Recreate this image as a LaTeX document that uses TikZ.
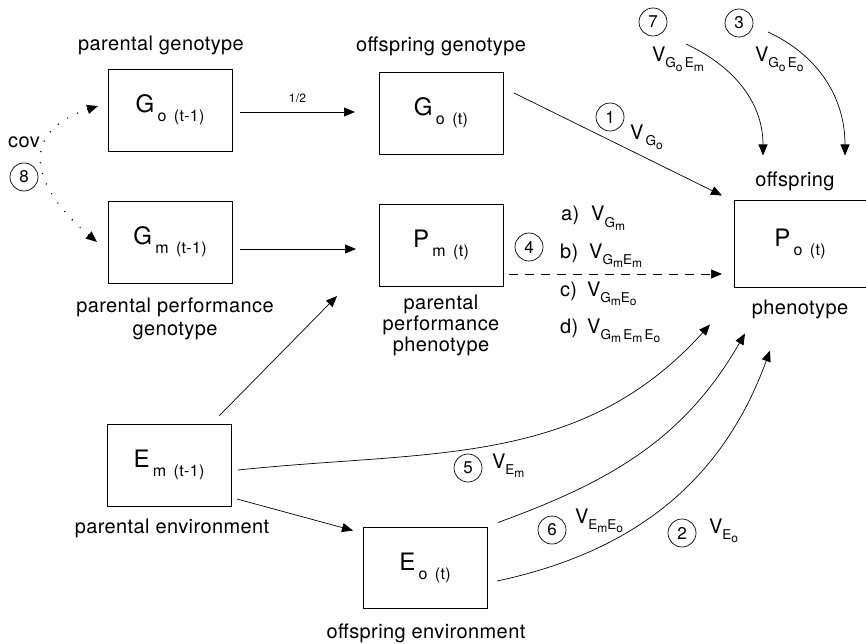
\documentclass[tikz,border=0pt]{standalone}
\usepackage{fontspec}
\setmainfont[LetterSpace=2]{TeX Gyre Heros}
\usetikzlibrary{positioning,arrows.meta}
\newcommand\boxlabel[2]{{\fontsize{24}{24}\selectfont #1}\,\raisebox{-9pt}{\fontsize{16}{16}\selectfont #2}}
\newcommand\varlabel[1]{{\fontsize{20}{20}\selectfont V}\raisebox{-6pt}{\fontsize{13.5}{13.5}\selectfont #1}}
\newcommand\lowsub[1]{\raisebox{-3.5pt}{\fontsize{12}{12}\selectfont #1}}
\tikzset{
  >={Triangle[length=11pt,width=9pt]},
  inner sep=0pt,
  outer sep=0pt
}

\begin{document}
\begin{tikzpicture}[x=1pt,y=-1pt,
  every node/.style={font=\fontsize{20}{23}\selectfont},
  varbox/.style={draw,line width=0.9pt,minimum width=124pt,minimum height=82pt},
  numcirc/.style={draw,circle,line width=0.7pt,minimum size=28pt,
    font=\fontsize{17}{17}\selectfont},
  link/.style={->,line width=0.7pt},
  covlink/.style={<->,line width=1.5pt,line cap=round,
    dash pattern=on 0.1pt off 11pt}]

	\useasboundingbox (0,0) rectangle (866,644);

	% the boxes
	\node[varbox] (gop) at (170,110) {\boxlabel{G}{o\ \,(t-1)}};
	\node[varbox] (gmp) at (170,242) {\boxlabel{G}{m\ \,(t-1)}};
	\node[varbox] (got) at (441,113) {\boxlabel{G}{o\ \,(t)}};
	\node[varbox] (pmt) at (441,245) {\boxlabel{P}{m\ \,(t)}};
	\node[varbox,minimum width=132pt,minimum height=87pt] (pot) at (800,244) {\boxlabel{P}{o\ \,(t)}};
	\node[varbox] (emp) at (169,465) {\boxlabel{E}{m\ \,(t-1)}};
	\node[varbox,minimum height=81pt] (eot) at (425,568) {\boxlabel{E}{o\ \,(t)}};

	% captions
	\node[anchor=base] (capgop) at (161,51) {parental genotype};
	\node[anchor=base] (capgot) at (441,52) {offspring genotype};
	\node[anchor=base,align=center] (capgmp) at (175,335) {parental performance\\genotype};
	\node[anchor=base,align=center,font=\fontsize{20}{21}\selectfont] (cappmt) at (441,351) {parental\\performance\\phenotype};
	\node[anchor=base] (cappotup) at (795,187) {offspring};
	\node[anchor=base] (cappotdn) at (800,314) {phenotype};
	\node[anchor=base] (capemp) at (172,533) {parental environment};
	\node[anchor=base] (capeot) at (426,638) {offspring environment};
	\node[anchor=base] (cov) at (24,148) {cov};

	% numbered paths
	\node[numcirc] (n8) at (24,177) {8};
	\node[numcirc] (n1) at (610,117) {1};
	\node[numcirc] (n7) at (653,22) {7};
	\node[numcirc] (n3) at (739,23) {3};
	\node[numcirc] (n4) at (529,247) {4};
	\node[numcirc] (n5) at (468,468) {5};
	\node[numcirc] (n6) at (552,530) {6};
	\node[numcirc] (n2) at (682,533) {2};

	\node[anchor=base west] (v1) at (630,140) {\varlabel{\,G\lowsub{o}}};
	\node[anchor=base west] (v7) at (652,62) {\varlabel{G\lowsub{o}\,E\lowsub{m}}};
	\node[anchor=base west] (v3) at (755,62) {\varlabel{G\lowsub{o}\,E\lowsub{o}}};
	\node[anchor=base west] (v5) at (492,468) {\varlabel{E\lowsub{m}}};
	\node[anchor=base west] (v6) at (575,523) {\varlabel{E\lowsub{m}E\lowsub{o}}};
	\node[anchor=base west] (v2) at (709,533) {\varlabel{E\lowsub{o}}};

	\node[anchor=base west] (va) at (561,221) {a)\hspace{12pt}\varlabel{G\lowsub{m}}};
	\node[anchor=base west] (vb) at (560,258) {b)\hspace{11pt}\varlabel{G\lowsub{m}E\lowsub{m}}};
	\node[anchor=base west] (vc) at (560,296) {c)\hspace{10pt}\varlabel{G\lowsub{m}E\lowsub{o}}};
	\node[anchor=base west] (vd) at (560,333) {d)\hspace{9pt}\varlabel{G\lowsub{m}\,E\lowsub{m}\,E\lowsub{o}}};

	\coordinate (from7) at (686,44);
	\coordinate (from3) at (768,32);

	% connectors
	\draw[link] ([xshift=8pt,yshift=-2pt]gop.east) -- node[above=9pt,font=\fontsize{12}{12}\selectfont] (half) {1/2} ([xshift=-24pt,yshift=1pt]got.west);
	\draw[link] ([xshift=8pt,yshift=-7pt]gmp.east) -- ([xshift=-23pt,yshift=-4pt]pmt.west);
	\draw[link] ([xshift=11pt,yshift=20pt]got.east) -- ([xshift=-12pt,yshift=5pt]pot.north west);
	\draw[link,dash pattern=on 9pt off 7pt] ([xshift=6pt,yshift=-29pt]pmt.east) -- ([xshift=-12pt,yshift=-30pt]pot.west);
	\draw[link] ([xshift=50pt,yshift=8pt]emp.north) -- ([xshift=-42pt,yshift=-10pt]pmt.south west);
	\draw[link] ([xshift=6pt,yshift=-34pt]emp.east) -- ([xshift=-10pt,yshift=-3pt]eot.north west);
	\draw[link] ([xshift=7pt,yshift=-5pt]emp.east) to[out=6,in=-132] ([xshift=-24pt,yshift=-37pt]pot.south west);
	\draw[link] ([xshift=11pt,yshift=5pt]eot.north east) to[out=20,in=-120] ([xshift=11pt,yshift=-46pt]pot.south west);
	\draw[link] ([xshift=10pt,yshift=-13pt]eot.east) to[out=12,in=-110] ([xshift=36pt,yshift=-63pt]pot.south west);
	\draw[link] (from7) to[out=-25,in=90] ([xshift=-37pt,yshift=45pt]pot.north);
	\draw[link] (from3) to[out=-25,in=90] ([xshift=45pt,yshift=45pt]pot.north);
	\draw[covlink] ([xshift=-10pt,yshift=4pt]gop.west) to[out=198,in=140,looseness=1.6] ([xshift=-11pt]gmp.west);

\end{tikzpicture}
\end{document}
